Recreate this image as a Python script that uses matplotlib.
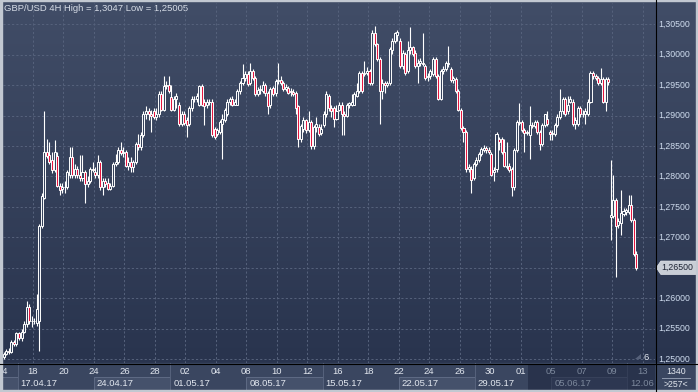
import numpy as np
import matplotlib
matplotlib.use("Agg")
import matplotlib.pyplot as plt
from matplotlib.patches import Rectangle, Polygon
from matplotlib.colors import to_rgb
from matplotlib.transforms import Bbox, TransformedBbox, IdentityTransform

# GBP/USD 4H candles, 14.04.17 - 12.06.17
opens = [1.2503, 1.2508, 1.2513, 1.2512, 1.2528, 1.2525, 1.2542, 1.2535, 1.2545, 1.2557,
         1.2585, 1.2562, 1.2563, 1.2560, 1.2563, 1.2718, 1.2765, 1.2840, 1.2835, 1.2827,
         1.2810, 1.2833, 1.2785, 1.2780, 1.2783, 1.2783, 1.2803, 1.2832, 1.2802, 1.2812,
         1.2803, 1.2797, 1.2807, 1.2788, 1.2793, 1.2812, 1.2808, 1.2802, 1.2823, 1.2782,
         1.2793, 1.2790, 1.2780, 1.2785, 1.2820, 1.2823, 1.2843, 1.2838, 1.2840, 1.2818,
         1.2823, 1.2815, 1.2823, 1.2853, 1.2848, 1.2868, 1.2902, 1.2907, 1.2903, 1.2907,
         1.2898, 1.2902, 1.2935, 1.2910, 1.2948, 1.2950, 1.2930, 1.2910, 1.2927, 1.2918,
         1.2887, 1.2903, 1.2893, 1.2887, 1.2912, 1.2928, 1.2927, 1.2918, 1.2948, 1.2923,
         1.2917, 1.2922, 1.2923, 1.2878, 1.2870, 1.2873, 1.2887, 1.2893, 1.2902, 1.2923,
         1.2927, 1.2918, 1.2918, 1.2940, 1.2953, 1.2962, 1.2968, 1.2953, 1.2973, 1.2962,
         1.2935, 1.2942, 1.2940, 1.2950, 1.2937, 1.2918, 1.2945, 1.2937, 1.2957, 1.2958,
         1.2953, 1.2943, 1.2945, 1.2940, 1.2938, 1.2937, 1.2915, 1.2862, 1.2878, 1.2892,
         1.2877, 1.2890, 1.2850, 1.2882, 1.2882, 1.2872, 1.2885, 1.2902, 1.2932, 1.2912,
         1.2912, 1.2895, 1.2910, 1.2917, 1.2902, 1.2900, 1.2917, 1.2918, 1.2918, 1.2932,
         1.2940, 1.2970, 1.2968, 1.2970, 1.2973, 1.2953, 1.3035, 1.3018, 1.2993, 1.2940,
         1.2953, 1.2950, 1.2953, 1.3007, 1.3023, 1.3033, 1.3023, 1.2982, 1.3002, 1.2973,
         1.3007, 1.3012, 1.3003, 1.2982, 1.2987, 1.2987, 1.2982, 1.2963, 1.2965, 1.2968,
         1.2993, 1.2965, 1.2928, 1.2973, 1.2977, 1.2985, 1.2977, 1.2958, 1.2960, 1.2940,
         1.2910, 1.2880, 1.2873, 1.2812, 1.2813, 1.2798, 1.2820, 1.2827, 1.2837, 1.2843,
         1.2847, 1.2843, 1.2837, 1.2807, 1.2812, 1.2862, 1.2862, 1.2840, 1.2818, 1.2818,
         1.2812, 1.2782, 1.2843, 1.2890, 1.2890, 1.2877, 1.2872, 1.2868, 1.2885, 1.2883,
         1.2890, 1.2873, 1.2853, 1.2885, 1.2895, 1.2873, 1.2870, 1.2870, 1.2885, 1.2898,
         1.2907, 1.2927, 1.2907, 1.2923, 1.2923, 1.2887, 1.2887, 1.2912, 1.2903, 1.2903,
         1.2903, 1.2923, 1.2970, 1.2965, 1.2962, 1.2953, 1.2960, 1.2923, 1.2960, 1.2733,
         1.2735, 1.2762, 1.2720, 1.2723, 1.2738, 1.2742, 1.2742, 1.2753, 1.2728, 1.2673]
highs = [1.2512, 1.2517, 1.2518, 1.2532, 1.2532, 1.2545, 1.2545, 1.2550, 1.2562, 1.2595,
         1.2590, 1.2570, 1.2568, 1.2607, 1.2722, 1.2772, 1.2907, 1.2862, 1.2857, 1.2840,
         1.2860, 1.2840, 1.2790, 1.2790, 1.2793, 1.2810, 1.2848, 1.2848, 1.2820, 1.2818,
         1.2835, 1.2835, 1.2810, 1.2800, 1.2815, 1.2823, 1.2815, 1.2835, 1.2827, 1.2798,
         1.2797, 1.2798, 1.2790, 1.2823, 1.2837, 1.2848, 1.2857, 1.2848, 1.2843, 1.2832,
         1.2832, 1.2827, 1.2857, 1.2870, 1.2873, 1.2907, 1.2915, 1.2913, 1.2910, 1.2912,
         1.2913, 1.2940, 1.2940, 1.2965, 1.2957, 1.2965, 1.2950, 1.2932, 1.2937, 1.2923,
         1.2907, 1.2907, 1.2897, 1.2915, 1.2932, 1.2933, 1.2937, 1.2950, 1.2952, 1.2927,
         1.2927, 1.2928, 1.2927, 1.2882, 1.2880, 1.2893, 1.2902, 1.2913, 1.2927, 1.2930,
         1.2932, 1.2927, 1.2943, 1.2957, 1.2985, 1.2973, 1.2973, 1.2987, 1.2977, 1.2965,
         1.2947, 1.2950, 1.2957, 1.2953, 1.2940, 1.2947, 1.2948, 1.2960, 1.2987, 1.2965,
         1.2957, 1.2952, 1.2948, 1.2945, 1.2943, 1.2940, 1.2918, 1.2887, 1.2897, 1.2895,
         1.2907, 1.2893, 1.2885, 1.2897, 1.2887, 1.2887, 1.2907, 1.2940, 1.2935, 1.2918,
         1.2915, 1.2918, 1.2922, 1.2923, 1.2907, 1.2920, 1.2923, 1.2935, 1.2938, 1.2953,
         1.2973, 1.2973, 1.2990, 1.2980, 1.2977, 1.3040, 1.3047, 1.3020, 1.2997, 1.2960,
         1.2957, 1.2957, 1.3013, 1.3027, 1.3038, 1.3040, 1.3027, 1.3007, 1.3005, 1.3023,
         1.3045, 1.3015, 1.3007, 1.2993, 1.2995, 1.3035, 1.2985, 1.2970, 1.2977, 1.2997,
         1.2997, 1.2968, 1.2977, 1.2982, 1.2990, 1.3015, 1.2980, 1.2965, 1.2963, 1.2943,
         1.2913, 1.2883, 1.2877, 1.2820, 1.2817, 1.2823, 1.2832, 1.2840, 1.2848, 1.2852,
         1.2850, 1.2848, 1.2840, 1.2815, 1.2873, 1.2865, 1.2865, 1.2862, 1.2857, 1.2822,
         1.2815, 1.2847, 1.2893, 1.2920, 1.2893, 1.2880, 1.2877, 1.2915, 1.2890, 1.2893,
         1.2893, 1.2877, 1.2888, 1.2903, 1.2907, 1.2877, 1.2877, 1.2888, 1.2902, 1.2943,
         1.2930, 1.2930, 1.2932, 1.2932, 1.2927, 1.2897, 1.2915, 1.2915, 1.2910, 1.2912,
         1.2927, 1.2973, 1.2973, 1.2968, 1.2965, 1.2978, 1.2963, 1.2963, 1.2963, 1.2827,
         1.2803, 1.2765, 1.2732, 1.2778, 1.2748, 1.2748, 1.2770, 1.2770, 1.2732, 1.2677]
lows = [1.25005, 1.2507, 1.2508, 1.2510, 1.2522, 1.2522, 1.2532, 1.2530, 1.2542, 1.2553,
        1.2557, 1.2553, 1.2557, 1.2555, 1.2513, 1.2715, 1.2763, 1.2830, 1.2820, 1.2805,
        1.2807, 1.2782, 1.2770, 1.2773, 1.2773, 1.2780, 1.2798, 1.2798, 1.2798, 1.2798,
        1.2793, 1.2793, 1.2757, 1.2782, 1.2790, 1.2807, 1.2797, 1.2798, 1.2778, 1.2770,
        1.2782, 1.2777, 1.2777, 1.2782, 1.2817, 1.2820, 1.2835, 1.2832, 1.2815, 1.2810,
        1.2807, 1.2807, 1.2820, 1.2843, 1.2843, 1.2865, 1.2895, 1.2893, 1.2873, 1.2895,
        1.2893, 1.2897, 1.2907, 1.2907, 1.2943, 1.2937, 1.2907, 1.2907, 1.2913, 1.2883,
        1.2883, 1.2885, 1.2865, 1.2883, 1.2908, 1.2923, 1.2923, 1.2915, 1.2915, 1.2885,
        1.2913, 1.2917, 1.2865, 1.2862, 1.2867, 1.2870, 1.2828, 1.2890, 1.2900, 1.2918,
        1.2915, 1.2917, 1.2917, 1.2935, 1.2950, 1.2957, 1.2948, 1.2950, 1.2958, 1.2932,
        1.2932, 1.2935, 1.2937, 1.2933, 1.2902, 1.2913, 1.2932, 1.2933, 1.2952, 1.2950,
        1.2940, 1.2940, 1.2935, 1.2933, 1.2932, 1.2902, 1.2848, 1.2857, 1.2873, 1.2872,
        1.2873, 1.2845, 1.2845, 1.2873, 1.2867, 1.2868, 1.2882, 1.2898, 1.2908, 1.2898,
        1.2882, 1.2893, 1.2907, 1.2868, 1.2868, 1.2897, 1.2913, 1.2915, 1.2917, 1.2930,
        1.2937, 1.2937, 1.2965, 1.2967, 1.2950, 1.2950, 1.3015, 1.2990, 1.2887, 1.2927,
        1.2937, 1.2947, 1.2950, 1.3002, 1.3020, 1.3023, 1.2978, 1.2977, 1.2967, 1.2970,
        1.3002, 1.2998, 1.2978, 1.2953, 1.2982, 1.2982, 1.2958, 1.2957, 1.2960, 1.2965,
        1.2962, 1.2925, 1.2925, 1.2968, 1.2973, 1.2980, 1.2955, 1.2953, 1.2937, 1.2907,
        1.2877, 1.2857, 1.2808, 1.2807, 1.2773, 1.2795, 1.2817, 1.2823, 1.2833, 1.2840,
        1.2838, 1.2837, 1.2800, 1.2793, 1.2808, 1.2843, 1.2837, 1.2815, 1.2812, 1.2807,
        1.2768, 1.2778, 1.2840, 1.2885, 1.2873, 1.2840, 1.2868, 1.2828, 1.2880, 1.2880,
        1.2870, 1.2843, 1.2850, 1.2882, 1.2883, 1.2860, 1.2860, 1.2867, 1.2882, 1.2895,
        1.2903, 1.2900, 1.2902, 1.2920, 1.2883, 1.2878, 1.2883, 1.2898, 1.2898, 1.2887,
        1.2900, 1.2920, 1.2960, 1.2958, 1.2950, 1.2950, 1.2920, 1.2907, 1.2950, 1.2695,
        1.2732, 1.2635, 1.2715, 1.2703, 1.2735, 1.2737, 1.2738, 1.2725, 1.2670, 1.2647]
closes = [1.2508, 1.2513, 1.2512, 1.2528, 1.2525, 1.2542, 1.2535, 1.2545, 1.2557, 1.2585,
          1.2562, 1.2563, 1.2562, 1.2583, 1.2718, 1.2768, 1.2840, 1.2833, 1.2823, 1.2810,
          1.2840, 1.2785, 1.2777, 1.2783, 1.2782, 1.2807, 1.2832, 1.2802, 1.2812, 1.2803,
          1.2797, 1.2807, 1.2788, 1.2793, 1.2812, 1.2810, 1.2802, 1.2823, 1.2782, 1.2793,
          1.2787, 1.2780, 1.2785, 1.2820, 1.2823, 1.2843, 1.2838, 1.2840, 1.2818, 1.2823,
          1.2815, 1.2823, 1.2853, 1.2848, 1.2868, 1.2902, 1.2907, 1.2903, 1.2900, 1.2898,
          1.2903, 1.2935, 1.2910, 1.2948, 1.2950, 1.2940, 1.2910, 1.2927, 1.2932, 1.2887,
          1.2902, 1.2888, 1.2885, 1.2912, 1.2928, 1.2927, 1.2932, 1.2948, 1.2918, 1.2915,
          1.2922, 1.2923, 1.2868, 1.2865, 1.2877, 1.2890, 1.2895, 1.2910, 1.2923, 1.2927,
          1.2918, 1.2923, 1.2940, 1.2953, 1.2962, 1.2968, 1.2952, 1.2973, 1.2962, 1.2935,
          1.2942, 1.2943, 1.2950, 1.2937, 1.2915, 1.2943, 1.2935, 1.2957, 1.2958, 1.2953,
          1.2943, 1.2947, 1.2937, 1.2938, 1.2935, 1.2912, 1.2862, 1.2883, 1.2892, 1.2877,
          1.2890, 1.2850, 1.2882, 1.2887, 1.2870, 1.2878, 1.2903, 1.2935, 1.2912, 1.2907,
          1.2895, 1.2907, 1.2917, 1.2903, 1.2900, 1.2917, 1.2920, 1.2923, 1.2935, 1.2940,
          1.2970, 1.2940, 1.2970, 1.2973, 1.2953, 1.3035, 1.3018, 1.2993, 1.2940, 1.2953,
          1.2950, 1.2953, 1.3010, 1.3023, 1.3035, 1.3037, 1.2982, 1.3003, 1.2970, 1.3007,
          1.3012, 1.3002, 1.2982, 1.2987, 1.2990, 1.2985, 1.2962, 1.2965, 1.2973, 1.2993,
          1.2965, 1.2928, 1.2973, 1.2977, 1.2987, 1.2986, 1.2958, 1.2962, 1.2940, 1.2910,
          1.2880, 1.2873, 1.2812, 1.2815, 1.2795, 1.2820, 1.2827, 1.2837, 1.2845, 1.2847,
          1.2843, 1.2840, 1.2803, 1.2810, 1.2870, 1.2857, 1.2840, 1.2818, 1.2815, 1.2810,
          1.2782, 1.2843, 1.2890, 1.2888, 1.2877, 1.2872, 1.2873, 1.2885, 1.2883, 1.2890,
          1.2873, 1.2853, 1.2885, 1.2902, 1.2887, 1.2870, 1.2872, 1.2885, 1.2898, 1.2907,
          1.2927, 1.2903, 1.2917, 1.2927, 1.2887, 1.2893, 1.2912, 1.2902, 1.2902, 1.2907,
          1.2923, 1.2970, 1.2965, 1.2962, 1.2953, 1.2960, 1.2923, 1.2960, 1.2955, 1.2737,
          1.2762, 1.2718, 1.2727, 1.2740, 1.2743, 1.2745, 1.2753, 1.2728, 1.2673, 1.2650]

# time axis: trading-day number (0 = 14.04.17) of each label
day_labels = ["14", "18", "20", "24", "26", "28", "02", "04", "08", "10", "12",
              "16", "18", "22", "24", "26", "30", "01", "05", "07", "09", "13"]
day_index = [0, 2, 4, 6, 8, 10, 12, 14, 16, 18, 20,
             22, 24, 26, 28, 30, 32, 34, 36, 38, 40, 42]
week_labels = ["14.04.17", "17.04.17", "24.04.17", "01.05.17", "08.05.17",
               "15.05.17", "22.05.17", "29.05.17", "05.06.17", "12.06"]
week_index = [0, 1, 6, 11, 16, 21, 26, 31, 36, 41]
price_ticks = [1.250, 1.255, 1.260, 1.265, 1.270, 1.275,
               1.280, 1.285, 1.290, 1.295, 1.300, 1.305]
title = "GBP/USD 4H High = 1,3047 Low = 1,25005"
bars_per_day = 6

W, H = 698, 392
plt.rcParams['font.family'] = ['Liberation Sans', 'DejaVu Sans']
FS = 6.8
FS_P = 6.3
TXT = '#e2e7ef'
DIM = '#7b879b'
GRID = '#56627c'

fig = plt.figure(figsize=(W / 100, H / 100), dpi=100)

# background layer in pixel coordinates
bg = fig.add_axes([0, 0, 1, 1])
top = np.array(to_rgb('#414d67'))
bot = np.array(to_rgb('#29344e'))
t = np.linspace(0, 1, 256)[:, None, None]
grad = top * (1 - t) + bot * t
bg.imshow(grad, extent=[0, W, 363, 0], aspect='auto', zorder=0)
bg.add_patch(Rectangle((0, 363), W, H - 363, color='#3a4660', zorder=1))
bg.set_xlim(0, W)
bg.set_ylim(H, 0)
bg.axis('off')

bg.text(4, 8, title, color='#d6dce6', fontsize=FS, ha='left', va='center')

# corner box
bg.text(676, 371, "1340", color=TXT, fontsize=FS_P, ha='center', va='center')
bg.plot([662, 690], [378, 378], color='#8e99ad', lw=0.7)
bg.text(676, 384.5, ">257<", color=TXT, fontsize=FS_P, ha='center', va='center')

# main price panel
ax = fig.add_axes([3 / W, (H - 363) / H, 652 / W, 360 / H])
ax.set_facecolor('none')
for s in ax.spines.values():
    s.set_visible(False)
ax.set_xticks([])
ax.set_yticks([])
ax.set_xlim(-0.3, 256.4)
ax.set_ylim(1.24935, 1.3085)

for p in price_ticks:
    ax.axhline(p, color=GRID, lw=0.7, ls=(0, (2.2, 2.2)), zorder=1)
for d in day_index:
    ax.axvline(bars_per_day * d - 0.5, color=GRID, lw=0.7, ls=(0, (2.2, 2.2)), zorder=1)

o = np.array(opens)
c = np.array(closes)
h = np.maximum(np.array(highs), np.maximum(o, c))
l = np.minimum(np.array(lows), np.minimum(o, c))
idx = np.arange(len(c))
up = c >= o
ax.vlines(idx, l, h, color='white', lw=0.8, zorder=2)
body = np.maximum(np.abs(c - o), 0.00006)
ax.bar(idx, body, bottom=np.minimum(o, c), width=0.8,
       color=np.where(up, '#37435d', '#e5163f'), edgecolor='white',
       linewidth=0.7, zorder=3)

# price scale on the right (the last-price marker covers its own level)
last = closes[-1]
ytr = ax.get_yaxis_transform()
for p in price_ticks:
    if abs(p - last) < 0.001:
        continue
    ax.text(1.0055, p, f"{p:.5f}".replace('.', ','), transform=ytr,
            color='#cfdcee', fontsize=FS_P, ha='left', va='center', clip_on=False)

dy = 0.0011
ax.add_patch(Polygon([(1.002, last), (1.009, last + dy), (1.0625, last + dy),
                      (1.0625, last - dy), (1.009, last - dy)], closed=True,
                     transform=ytr, facecolor='#c9ced6', edgecolor='#e6e9ee',
                     lw=0.5, clip_on=False, zorder=4))
ax.text(1.0095, last, f"{last:.5f}".replace('.', ','), transform=ytr,
        color='#1c2232', fontsize=FS_P, ha='left', va='center', clip_on=False, zorder=5)

# small bar counter marker
ax.text(0.986, 0.016, "6", transform=ax.transAxes, color=TXT, fontsize=FS,
        ha='center', va='center')
ax.add_patch(Polygon([(0.970, 0.010), (0.979, 0.010), (0.979, 0.024)], closed=True,
                     transform=ax.transAxes, facecolor='#56617a', edgecolor='none'))

# time scale
xtr = ax.get_xaxis_transform()
clipbox = TransformedBbox(Bbox([[3, 0], [655, 28]]), IdentityTransform())
hl_start = 528  # darker highlighted part of the time scale (pixels)

for k, (lab, w0) in enumerate(zip(week_labels, week_index)):
    x0 = bars_per_day * w0 - 0.5
    nxt = week_index[k + 1] if k + 1 < len(week_index) else w0 + 5
    if k % 2 == 0:
        ax.add_patch(Rectangle((x0, -0.075), bars_per_day * (nxt - w0), 0.036,
                               transform=xtr, facecolor='#45516b', edgecolor='#5e6a84',
                               lw=0.7, clip_on=False, zorder=1))
    else:
        ax.plot([x0, x0], [0, -0.078], transform=xtr, color='#56627c', lw=0.7,
                clip_on=False, zorder=1)

ax.add_patch(Rectangle((hl_start, 364), 655 - hl_start, 27, transform=bg.transData,
                       facecolor='#1e2740', alpha=0.6, edgecolor='none',
                       clip_on=False, zorder=2))
fig.canvas.draw()


def px(xv):
    return ax.transData.transform((xv, 1.27))[0]


for lab, d in zip(day_labels, day_index):
    xv = bars_per_day * d - 0.5
    col = DIM if px(xv) > hl_start else TXT
    tx = ax.text(xv, -0.025, lab, transform=xtr, color=col, fontsize=FS,
                 ha='center', va='center', zorder=3)
    tx.set_clip_box(clipbox)

for lab, w0 in zip(week_labels[1:], week_index[1:]):
    xv = bars_per_day * w0 - 0.5
    col = DIM if px(xv) > hl_start else TXT
    tx = ax.text(xv + 1.2, -0.058, lab, transform=xtr, color=col, fontsize=FS,
                 ha='left', va='center', zorder=3)
    tx.set_clip_box(clipbox)

# frame on top
fr = fig.add_axes([0, 0, 1, 1], zorder=5)
fr.set_facecolor('none')
fr.set_xlim(0, W)
fr.set_ylim(H, 0)
fr.axis('off')
fr.plot([655.5, 655.5], [0, H], color='black', lw=0.8)
fr.plot([0, W], [363.5, 363.5], color='black', lw=0.8)
border = '#c2c8d1'
fr.add_patch(Rectangle((0, 0), 2, H, color=border))
fr.add_patch(Rectangle((W - 2, 0), 2, H, color=border))
fr.add_patch(Rectangle((0, H - 2), W, 2, color=border))
fr.add_patch(Rectangle((0, 0), W, 1, color=border))

fig.savefig("out.png", dpi=100)
